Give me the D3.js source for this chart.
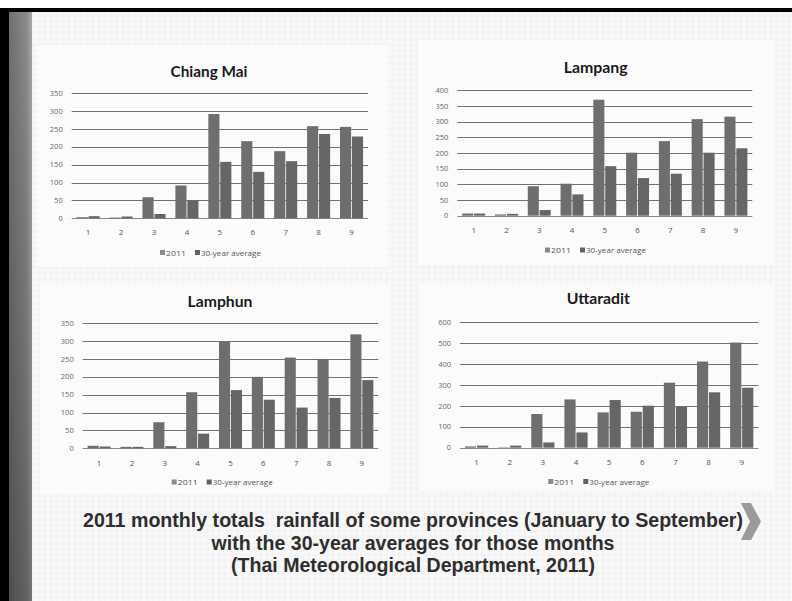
<!DOCTYPE html>
<html>
<head>
<meta charset="utf-8">
<script src="https://cdn.jsdelivr.net/npm/d3@7"></script>
<style>
  html, body { margin: 0; padding: 0; background: #f6f6f6; }
  svg { display: block; }
  .caption { white-space: pre; }
</style>
</head>
<body>
<svg id="slide" width="792" height="601"></svg>
<script>
// Months January..September
const months = [1, 2, 3, 4, 5, 6, 7, 8, 9];
const seriesNames = ["2011", "30-year average"];

// Monthly rainfall totals (mm)
const chiangMai2011 = [3, 2, 59, 92, 292, 216, 188, 258, 256];
const chiangMaiAvg  = [6, 5, 12, 50, 158, 130, 160, 236, 229];
const lampang2011   = [7, 4, 94, 102, 370, 201, 238, 308, 316];
const lampangAvg    = [7, 6, 18, 68, 158, 120, 134, 201, 215];
const lamphun2011   = [7, 4, 73, 157, 298, 200, 254, 250, 319];
const lamphunAvg    = [5, 4, 6, 41, 163, 136, 114, 141, 191];
const uttaradit2011 = [6, 2, 161, 231, 169, 172, 311, 412, 503];
const uttaraditAvg  = [10, 10, 25, 73, 228, 201, 195, 265, 287];

// Y-axis tick labels for each panel
const ticks350 = [0, 50, 100, 150, 200, 250, 300, 350];
const ticks400 = [0, 50, 100, 150, 200, 250, 300, 350, 400];
const ticks600 = [0, 100, 200, 300, 400, 500, 600];

const captionLines = [
  "2011 monthly totals  rainfall of some provinces (January to September)",
  "with the 30-year averages for those months",
  "(Thai Meteorological Department, 2011)"
];

const svg = d3.select("#slide");

// ---- slide background and frame ----
const defs = svg.append("defs");
const pat = defs.append("pattern").attr("id", "tex").attr("width", 6).attr("height", 6)
  .attr("patternUnits", "userSpaceOnUse");
pat.append("rect").attr("width", 6).attr("height", 6).attr("fill", "#f9f9f9");
pat.append("path").attr("d", "M0 3 L3 0 L6 3 L3 6 Z").attr("fill", "#f3f3f3");

const side = defs.append("linearGradient").attr("id", "side").attr("x1", 0).attr("x2", 1);
side.append("stop").attr("offset", "0%").attr("stop-color", "#6f6f6f");
side.append("stop").attr("offset", "75%").attr("stop-color", "#8a8a8a");
side.append("stop").attr("offset", "100%").attr("stop-color", "#a8a8a8");
const shade = defs.append("linearGradient").attr("id", "shade").attr("x1", 0).attr("x2", 0).attr("y1", 0).attr("y2", 1);
shade.append("stop").attr("offset", "0%").attr("stop-color", "#000").attr("stop-opacity", 0);
shade.append("stop").attr("offset", "100%").attr("stop-color", "#000").attr("stop-opacity", 0.3);

svg.append("rect").attr("x", 0).attr("y", 0).attr("width", 792).attr("height", 601).attr("fill", "url(#tex)");
svg.append("rect").attr("x", 0).attr("y", 0).attr("width", 792).attr("height", 8).attr("fill", "#ffffff");
svg.append("rect").attr("x", 0).attr("y", 8).attr("width", 792).attr("height", 4).attr("fill", "#000");
svg.append("rect").attr("x", 0).attr("y", 8).attr("width", 9).attr("height", 593).attr("fill", "#000");
svg.append("rect").attr("x", 9).attr("y", 12).attr("width", 23).attr("height", 589).attr("fill", "url(#side)");
svg.append("rect").attr("x", 9).attr("y", 12).attr("width", 23).attr("height", 589).attr("fill", "url(#shade)");

// ---- chart panels ----
const panels = [
  { title: "Chiang Mai", titleW: 77, s1: chiangMai2011, s2: chiangMaiAvg, ticks: ticks350,
    box: [38, 45, 350, 222], x0: 71.7, x1: 368, yTop: 93.3, yZero: 218.3,
    titleX: 209, titleY: 77, xLabY: 235, legY: 253, legX: 160 },
  { title: "Lampang", titleW: 64, s1: lampang2011, s2: lampangAvg, ticks: ticks400,
    box: [418, 40, 356, 225], x0: 457.3, x1: 752.3, yTop: 90.3, yZero: 215.7,
    titleX: 595.7, titleY: 73, xLabY: 232.5, legY: 250.5, legX: 545 },
  { title: "Lamphun", titleW: 65, s1: lamphun2011, s2: lamphunAvg, ticks: ticks350,
    box: [40, 284, 350, 210], x0: 82.7, x1: 378.3, yTop: 323.3, yZero: 448.3,
    titleX: 220, titleY: 306.5, xLabY: 466, legY: 482.5, legX: 171.7 },
  { title: "Uttaradit", titleW: 63.3, s1: uttaradit2011, s2: uttaraditAvg, ticks: ticks600,
    box: [420, 284, 354, 206], x0: 460, x1: 758.3, yTop: 322.3, yZero: 447.7,
    titleX: 598.3, titleY: 304, xLabY: 465, legY: 482, legX: 548.3 }
];

const barColors = ["#6e6e6e", "#666666"];
const legendColors = ["#8a8a8a", "#626262"];
const labelFont = "'Open Sans', 'Liberation Sans', sans-serif";

panels.forEach(p => {
  const g = svg.append("g");
  g.append("rect").attr("x", p.box[0]).attr("y", p.box[1]).attr("width", p.box[2]).attr("height", p.box[3])
    .attr("fill", "#fefefe").attr("opacity", 0.7);

  const yMax = p.ticks[p.ticks.length - 1];
  const y = d3.scaleLinear().domain([0, yMax]).range([p.yZero, p.yTop]);
  const x = d3.scaleBand().domain(months).range([p.x0, p.x1]).paddingInner(0.3).paddingOuter(0.15);
  const xs = d3.scaleBand().domain([0, 1]).range([0, x.bandwidth()]).paddingInner(0.07);

  // gridlines
  g.append("g").selectAll("line").data(p.ticks).join("line")
    .attr("x1", p.x0).attr("x2", p.x1)
    .attr("y1", d => Math.round(y(d)) + 0.5).attr("y2", d => Math.round(y(d)) + 0.5)
    .attr("stroke", d => d === 0 ? "#888" : "#727272").attr("stroke-width", 1);

  // y tick labels
  g.append("g").selectAll("text").data(p.ticks).join("text")
    .attr("x", p.x0 - 9).attr("y", d => y(d)).attr("dy", "0.35em")
    .attr("text-anchor", "end").attr("font-family", labelFont).attr("font-size", 7.5)
    .attr("fill", "#666").text(d => d);

  // bars
  const groups = g.append("g").selectAll("g").data(months).join("g")
    .attr("transform", (m) => `translate(${x(m)},0)`);
  groups.selectAll("rect").data((m, i) => [p.s1[i], p.s2[i]]).join("rect")
    .attr("x", (d, j) => xs(j)).attr("width", xs.bandwidth())
    .attr("y", d => y(d)).attr("height", d => p.yZero - y(d))
    .attr("fill", (d, j) => barColors[j]);

  // x labels
  g.append("g").selectAll("text").data(months).join("text")
    .attr("x", m => x(m) + x.bandwidth() / 2).attr("y", p.xLabY)
    .attr("text-anchor", "middle").attr("font-family", labelFont).attr("font-size", 8)
    .attr("fill", "#555").text(m => m);

  // title
  g.append("text").attr("x", p.titleX).attr("y", p.titleY).attr("text-anchor", "middle")
    .attr("font-family", "Lato, 'Open Sans', sans-serif").attr("font-weight", "bold")
    .attr("font-size", 15.5).attr("fill", "#1a1a1a")
    .attr("textLength", p.titleW).attr("lengthAdjust", "spacingAndGlyphs").text(p.title);

  // legend
  const lg = g.append("g").attr("transform", `translate(${p.legX},${p.legY})`);
  const offsets = [0, 35];
  const textW = [20, 60];
  seriesNames.forEach((name, j) => {
    lg.append("rect").attr("x", offsets[j]).attr("y", -3).attr("width", 5).attr("height", 5)
      .attr("fill", legendColors[j]);
    lg.append("text").attr("x", offsets[j] + 6).attr("y", 0).attr("dy", "0.35em")
      .attr("font-family", labelFont).attr("font-size", 7.5).attr("fill", "#555")
      .attr("textLength", textW[j]).attr("lengthAdjust", "spacingAndGlyphs").text(name);
  });
});

// ---- caption ----
const capWidths = [660, 403, 364];
const capY = [527, 550, 572];
svg.append("g").selectAll("text").data(captionLines).join("text")
  .attr("class", "caption")
  .attr("x", 413).attr("y", (d, i) => capY[i]).attr("text-anchor", "middle")
  .attr("font-family", "'Liberation Sans', Arial, sans-serif").attr("font-weight", "bold")
  .attr("font-size", 19.5).attr("fill", "#2e2e2e")
  .attr("textLength", (d, i) => capWidths[i]).attr("lengthAdjust", "spacingAndGlyphs")
  .text(d => d);

// next-slide chevron
svg.append("path")
  .attr("d", "M741 503 L751 503 L761 521.5 L751 540 L741 540 L750 521.5 Z")
  .attr("fill", "#9a9a9a");
</script>
</body>
</html>
